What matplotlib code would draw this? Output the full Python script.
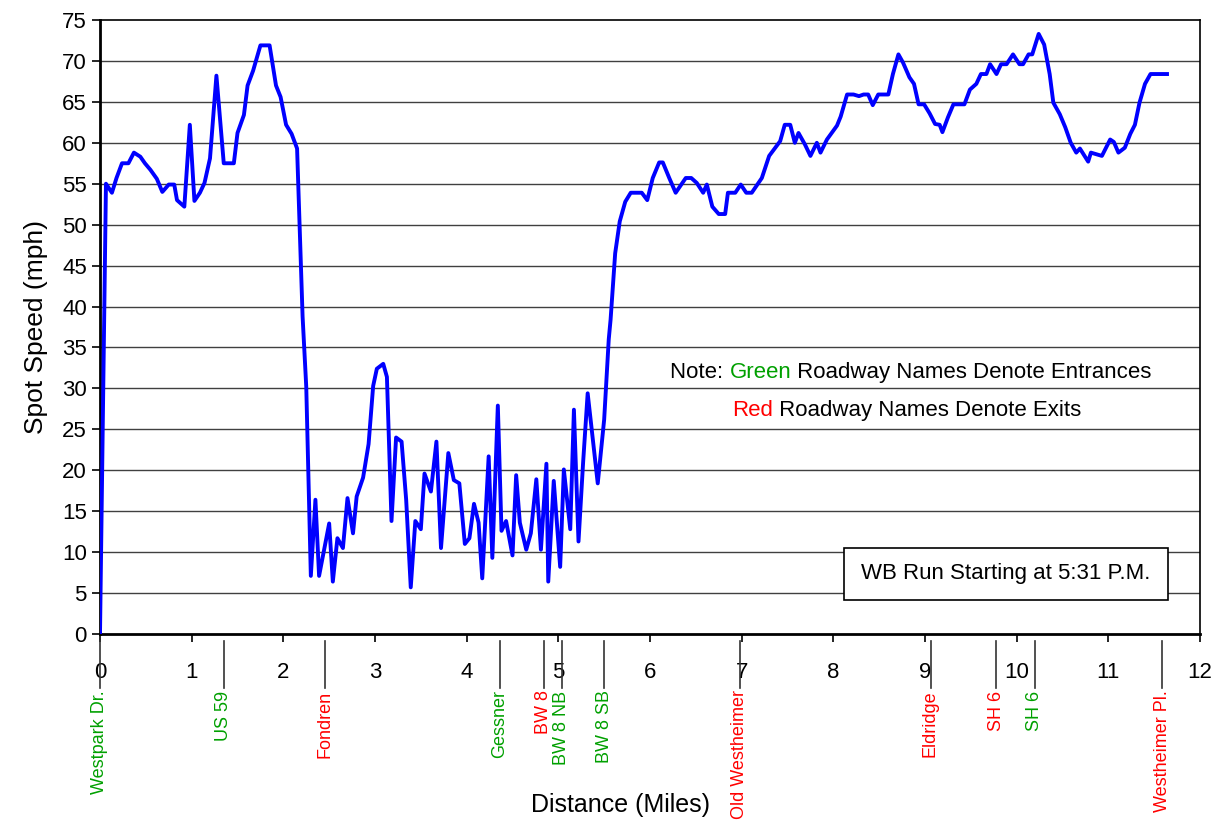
import matplotlib
matplotlib.use("Agg")
import matplotlib.pyplot as plt
from matplotlib.patches import Rectangle
import matplotlib.transforms as mtransforms

plt.rcParams['font.family'] = ['Liberation Sans', 'DejaVu Sans']

# spot speed along the westbound run
dist = [0.0, 0.065, 0.13, 0.18, 0.24, 0.31, 0.37, 0.44, 0.49, 0.55, 0.62, 0.68, 0.75, 0.81,
        0.84, 0.92, 0.98, 1.03, 1.09, 1.14, 1.20, 1.27, 1.35, 1.46, 1.50, 1.57, 1.61, 1.67,
        1.75, 1.85, 1.92, 1.97, 2.03, 2.09, 2.15, 2.21, 2.25,
        2.30, 2.35, 2.39, 2.50, 2.54, 2.59, 2.65, 2.70, 2.76, 2.80, 2.87, 2.93, 2.98, 3.02,
        3.09, 3.13, 3.18, 3.23, 3.29, 3.34, 3.39, 3.44, 3.50, 3.54, 3.61, 3.67, 3.72, 3.80,
        3.86, 3.92, 3.98, 4.03, 4.08, 4.13, 4.17, 4.24, 4.28, 4.34, 4.38, 4.43, 4.50, 4.54,
        4.58, 4.65, 4.70, 4.76, 4.81, 4.87, 4.89, 4.95, 5.02, 5.06, 5.13, 5.17, 5.22, 5.27,
        5.32, 5.43, 5.50, 5.55, 5.57, 5.62, 5.67, 5.73, 5.79, 5.91, 5.97, 6.03, 6.10, 6.14,
        6.21, 6.28, 6.39, 6.45, 6.51, 6.58, 6.62, 6.68, 6.75, 6.82, 6.85, 6.93, 6.99, 7.05,
        7.11, 7.22, 7.30, 7.42, 7.47, 7.53, 7.58, 7.62, 7.69, 7.75, 7.82, 7.86, 7.93, 8.04,
        8.08, 8.15, 8.22, 8.28, 8.33, 8.38, 8.43, 8.49, 8.60, 8.65, 8.71, 8.76, 8.83, 8.88,
        8.93, 8.99, 9.05, 9.11, 9.16, 9.19, 9.25, 9.31, 9.43, 9.49, 9.56, 9.61, 9.67, 9.71,
        9.78, 9.83, 9.89, 9.96, 10.03, 10.07, 10.13, 10.17, 10.24, 10.30, 10.36, 10.40, 10.47,
        10.53, 10.59, 10.65, 10.69, 10.73, 10.78, 10.81, 10.87, 10.93, 11.02, 11.06, 11.11,
        11.18, 11.24, 11.29, 11.34, 11.40, 11.46, 11.64]
speed = [0.0, 55.0, 53.9, 55.7, 57.5, 57.5, 58.8, 58.3, 57.5, 56.7, 55.6, 54.0, 54.9, 54.9,
         53.0, 52.2, 62.2, 52.9, 53.9, 55.1, 58.1, 68.2, 57.5, 57.5, 61.2, 63.4, 67.0, 68.8,
         71.9, 71.9, 67.0, 65.6, 62.2, 61.1, 59.3, 38.8, 30.2,
         7.1, 16.4, 7.1, 13.5, 6.4, 11.7, 10.5, 16.6, 12.3, 16.8, 19.1, 23.2, 30.3, 32.4,
         33.0, 31.4, 13.8, 24.0, 23.5, 16.4, 5.7, 13.8, 12.8, 19.6, 17.4, 23.5, 10.5, 22.1,
         18.8, 18.4, 11.0, 11.7, 15.9, 13.6, 6.8, 21.7, 9.3, 27.9, 12.6, 13.8, 9.6, 19.4,
         13.6, 10.3, 12.3, 18.9, 10.3, 20.8, 6.4, 18.7, 8.2, 20.1, 12.8, 27.4, 11.3, 20.9,
         29.4, 18.4, 26.2, 36.0, 38.4, 46.5, 50.4, 52.8, 53.9, 53.9, 53.0, 55.7, 57.6, 57.6,
         55.7, 53.9, 55.7, 55.7, 55.1, 53.9, 54.9, 52.2, 51.3, 51.3, 53.9, 53.9, 54.9, 53.9,
         53.9, 55.7, 58.4, 60.2, 62.2, 62.2, 60.0, 61.2, 59.8, 58.4, 60.0, 58.8, 60.4, 62.1,
         63.2, 65.9, 65.9, 65.7, 65.9, 65.9, 64.6, 65.9, 65.9, 68.4, 70.8, 69.8, 68.0, 67.2,
         64.7, 64.7, 63.6, 62.3, 62.2, 61.3, 63.1, 64.7, 64.7, 66.5, 67.2, 68.4, 68.4, 69.6,
         68.4, 69.6, 69.6, 70.8, 69.6, 69.6, 70.8, 70.8, 73.3, 72.0, 68.4, 64.9, 63.5,
         61.9, 60.0, 58.8, 59.3, 58.6, 57.7, 58.8, 58.6, 58.4, 60.4, 60.1, 58.8,
         59.4, 61.1, 62.2, 64.9, 67.2, 68.4, 68.4]

# roadway names along the route (green = entrance, red = exit)
road_names = ['Westpark Dr.', 'US 59', 'Fondren', 'Gessner', 'BW 8', 'BW 8 NB', 'BW 8 SB',
              'Old Westheimer', 'Eldridge', 'SH 6', 'SH 6', 'Westheimer Pl.']
road_miles = [0.0, 1.35, 2.45, 4.36, 4.84, 5.04, 5.50, 6.98, 9.06, 9.78, 10.20, 11.59]
road_kind = ['in', 'in', 'out', 'in', 'out', 'in', 'in', 'out', 'out', 'out', 'in', 'out']

GREEN = '#00a000'
RED = '#ff0000'
kind_color = {'in': GREEN, 'out': RED}

fig = plt.figure(figsize=(12.25, 8.25), dpi=100)
ax = fig.add_axes([100 / 1225, 191 / 825, 1100 / 1225, 614 / 825])

for y in range(5, 75, 5):
    ax.axhline(y, color='0.25', lw=1.0, zorder=1)

ax.plot(dist, speed, color='#0000ff', lw=2.8, zorder=3)

ax.set_xlim(0, 12)
ax.set_ylim(0, 75)
ax.set_xticks(range(0, 13))
ax.set_yticks(range(0, 80, 5))
ax.tick_params(axis='both', direction='out', length=6, width=1.2, labelsize=16, colors='black')
ax.tick_params(axis='x', pad=14)
for s in ax.spines.values():
    s.set_linewidth(1.2)
ax.spines['left'].set_linewidth(2)
ax.spines['bottom'].set_linewidth(2)

ax.set_ylabel('Spot Speed (mph)', fontsize=19, labelpad=10)
ax.set_xlabel('Distance (Miles)', fontsize=18, va='center')
ax.xaxis.set_label_coords(0.473, -0.278)

# roadway markers under the axis
trans = mtransforms.blended_transform_factory(ax.transData, ax.transAxes)
for name, mile, kind in zip(road_names, road_miles, road_kind):
    ax.plot([mile, mile], [-0.012, -0.088], color='0.2', lw=1.2, transform=trans, clip_on=False)
    ax.text(mile, -0.092, name, rotation=90, ha='center', va='top', fontsize=13,
            color=kind_color[kind], transform=trans)

# colour legend note
t = ax.text(6.22, 32.0, 'Note: ', fontsize=16, va='center', ha='left')
t = ax.annotate('Green', xy=(1, 0), xycoords=t, va='bottom', ha='left', fontsize=16, color=GREEN)
ax.annotate(' Roadway Names Denote Entrances', xy=(1, 0), xycoords=t, va='bottom', ha='left',
            fontsize=16)
t = ax.text(6.90, 27.3, 'Red', fontsize=16, va='center', ha='left', color=RED)
ax.annotate(' Roadway Names Denote Exits', xy=(1, 0), xycoords=t, va='bottom', ha='left',
            fontsize=16)

# run label box
ax.add_patch(Rectangle((0.676, 0.0554), 0.2945, 0.0847, transform=ax.transAxes,
                       facecolor='white', edgecolor='black', lw=1.2, zorder=4))
ax.text(0.676 + 0.2945 / 2, 0.0554 + 0.0847 / 2, 'WB Run Starting at 5:31 P.M.', fontsize=16,
        ha='center', va='center', transform=ax.transAxes, zorder=5)

fig.savefig('out.png', dpi=100)
